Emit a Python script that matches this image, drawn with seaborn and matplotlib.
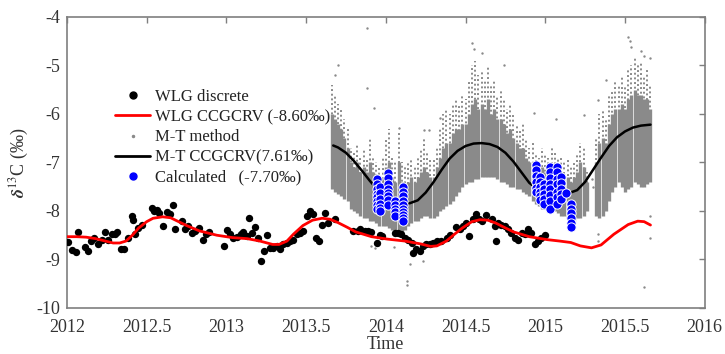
import numpy as np
import pandas as pd
import matplotlib
matplotlib.use("Agg")
import matplotlib.pyplot as plt
import seaborn as sns
from matplotlib.lines import Line2D

# ---------------------------------------------------------------- data
# WLG discrete flask samples (decimal year, delta13C permil)
wlg_year = [2012.008, 2012.030, 2012.056, 2012.071, 2012.113, 2012.134, 2012.148, 2012.171,
            2012.192, 2012.217, 2012.238, 2012.259, 2012.280, 2012.301, 2012.316, 2012.337,
            2012.359, 2012.380, 2012.406, 2012.412, 2012.426, 2012.447, 2012.468, 2012.531,
            2012.545, 2012.562, 2012.579, 2012.604, 2012.625, 2012.646, 2012.663, 2012.677,
            2012.719, 2012.740, 2012.761, 2012.782, 2012.803, 2012.830, 2012.851, 2012.871,
            2012.892, 2012.984, 2013.005, 2013.022, 2013.043, 2013.068, 2013.089, 2013.106,
            2013.127, 2013.143, 2013.160, 2013.179, 2013.200, 2013.217, 2013.237, 2013.252,
            2013.273, 2013.293, 2013.315, 2013.335, 2013.356, 2013.377, 2013.398, 2013.419,
            2013.440, 2013.461, 2013.481, 2013.503, 2013.524, 2013.544, 2013.565, 2013.580,
            2013.597, 2013.618, 2013.638, 2013.680, 2013.795, 2013.826, 2013.837, 2013.868,
            2013.889, 2013.910, 2013.942, 2013.962, 2013.979, 2014.056, 2014.077, 2014.098,
            2014.119, 2014.140, 2014.161, 2014.171, 2014.192, 2014.213, 2014.234, 2014.255,
            2014.276, 2014.297, 2014.318, 2014.349, 2014.381, 2014.401, 2014.443, 2014.464,
            2014.485, 2014.502, 2014.522, 2014.544, 2014.564, 2014.585, 2014.606, 2014.631,
            2014.663, 2014.683, 2014.690, 2014.704, 2014.725, 2014.746, 2014.767, 2014.788,
            2014.809, 2014.830, 2014.851, 2014.871, 2014.892, 2014.913, 2014.934, 2014.955,
            2014.976, 2014.997]
wlg_value = [-8.64, -8.81, -8.84, -8.44, -8.74, -8.83, -8.62, -8.55,
             -8.69, -8.59, -8.44, -8.59, -8.48, -8.47, -8.43, -8.78,
             -8.78, -8.55, -8.10, -8.19, -8.48, -8.35, -8.28, -7.94,
             -8.01, -7.99, -8.04, -8.31, -8.03, -8.07, -7.87, -8.38,
             -8.21, -8.38, -8.31, -8.46, -8.41, -8.35, -8.59, -8.48,
             -8.44, -8.72, -8.39, -8.48, -8.55, -8.53, -8.48, -8.44,
             -8.52, -8.14, -8.45, -8.33, -8.55, -9.03, -8.82, -8.50,
             -8.77, -8.76, -8.72, -8.79, -8.69, -8.65, -8.62, -8.59,
             -8.48, -8.45, -8.41, -8.11, -8.01, -8.07, -8.55, -8.62,
             -8.28, -8.04, -8.24, -8.16, -8.41, -8.41, -8.38, -8.41,
             -8.41, -8.43, -8.66, -8.50, -8.52, -8.45, -8.46, -8.48,
             -8.55, -8.59, -8.66, -8.86, -8.79, -8.83, -8.72, -8.69,
             -8.69, -8.66, -8.62, -8.62, -8.55, -8.50, -8.34, -8.38,
             -8.31, -8.24, -8.52, -8.17, -8.07, -8.17, -8.21, -8.09,
             -8.17, -8.31, -8.62, -8.24, -8.28, -8.31, -8.38, -8.45,
             -8.55, -8.59, -8.45, -8.48, -8.38, -8.45, -8.69, -8.62,
             -8.55, -8.50]

# WLG CCGCRV smoothed curve
wlg_fit_year = [2012.00, 2012.06, 2012.12, 2012.18, 2012.24, 2012.29, 2012.33, 2012.37,
                2012.41, 2012.45, 2012.50, 2012.54, 2012.60, 2012.65, 2012.70, 2012.75,
                2012.83, 2012.94, 2013.04, 2013.13, 2013.21, 2013.29, 2013.33, 2013.38,
                2013.42, 2013.48, 2013.54, 2013.60, 2013.65, 2013.70, 2013.76, 2013.81,
                2013.91, 2014.01, 2014.12, 2014.22, 2014.28, 2014.32, 2014.38, 2014.43,
                2014.48, 2014.54, 2014.59, 2014.64, 2014.69, 2014.75, 2014.80, 2014.90,
                2015.01, 2015.09, 2015.16, 2015.22, 2015.29, 2015.35, 2015.43, 2015.52,
                2015.58, 2015.62, 2015.66]
wlg_fit_value = [-8.53, -8.53, -8.54, -8.57, -8.62, -8.66, -8.66, -8.62,
                 -8.50, -8.35, -8.22, -8.15, -8.12, -8.14, -8.22, -8.30,
                 -8.41, -8.50, -8.55, -8.57, -8.62, -8.69, -8.69, -8.62,
                 -8.48, -8.30, -8.19, -8.15, -8.17, -8.24, -8.34, -8.43,
                 -8.53, -8.58, -8.62, -8.68, -8.73, -8.72, -8.62, -8.48,
                 -8.35, -8.22, -8.18, -8.19, -8.25, -8.35, -8.43, -8.53,
                 -8.59, -8.62, -8.65, -8.72, -8.76, -8.70, -8.48, -8.28,
                 -8.21, -8.22, -8.29]

# M-T method: hourly retrievals summarised in 0.02-yr bins
# (full range, and upper edge of the dense core)
mt_year = [2013.66, 2013.68, 2013.70, 2013.72, 2013.74, 2013.76, 2013.78, 2013.80, 2013.82, 2013.84,
           2013.86, 2013.88, 2013.90, 2013.92, 2013.94, 2013.96, 2013.98, 2014.00, 2014.02, 2014.04,
           2014.06, 2014.08, 2014.10, 2014.12, 2014.14, 2014.16, 2014.18, 2014.20, 2014.22, 2014.24,
           2014.26, 2014.28, 2014.30, 2014.32, 2014.34, 2014.36, 2014.38, 2014.40, 2014.42, 2014.44,
           2014.46, 2014.48, 2014.50, 2014.52, 2014.54, 2014.56, 2014.58, 2014.60, 2014.62, 2014.64,
           2014.66, 2014.68, 2014.70, 2014.72, 2014.74, 2014.76, 2014.78, 2014.80, 2014.82, 2014.84,
           2014.86, 2014.88, 2014.90, 2014.92, 2014.94, 2014.96, 2014.98, 2015.00, 2015.02, 2015.04,
           2015.06, 2015.08, 2015.10, 2015.12, 2015.14, 2015.16, 2015.18, 2015.20, 2015.22, 2015.24,
           2015.26, 2015.32, 2015.34, 2015.36, 2015.38, 2015.40, 2015.42, 2015.44, 2015.46, 2015.48,
           2015.50, 2015.52, 2015.54, 2015.56, 2015.58, 2015.60, 2015.62, 2015.64, 2015.66]
mt_low = [-7.55, -7.60, -7.65, -7.70, -7.75, -7.80, -7.95, -8.00, -8.05, -8.10,
          -8.15, -8.15, -8.20, -8.20, -8.25, -8.30, -8.30, -8.30, -8.35, -8.40,
          -8.40, -8.45, -8.45, -8.40, -8.30, -8.25, -8.20, -8.20, -8.15, -8.10,
          -8.10, -8.15, -8.15, -8.10, -8.00, -7.95, -7.90, -7.85, -7.80, -7.70,
          -7.60, -7.50, -7.45, -7.40, -7.40, -7.35, -7.35, -7.30, -7.30, -7.30,
          -7.30, -7.30, -7.35, -7.40, -7.40, -7.45, -7.50, -7.50, -7.55, -7.55,
          -7.60, -7.65, -7.70, -7.80, -7.85, -7.90, -7.95, -7.95, -8.00, -8.00,
          -8.00, -8.05, -8.10, -8.10, -8.15, -8.20, -8.20, -8.15, -8.15, -8.10,
          -8.00, -8.10, -8.15, -8.10, -8.00, -7.80, -7.60, -7.50, -7.40, -7.50,
          -7.60, -7.55, -7.50, -7.40, -7.45, -7.50, -7.50, -7.45, -7.40]
mt_high = [-5.40, -5.60, -5.80, -5.90, -6.10, -6.30, -6.70, -6.80, -6.60, -6.90,
           -6.70, -6.90, -6.50, -6.90, -7.00, -7.10, -6.90, -6.50, -6.30, -6.90,
           -7.00, -6.40, -7.00, -7.10, -7.00, -6.90, -7.10, -6.90, -6.70, -6.50,
           -6.80, -6.90, -6.90, -6.70, -6.30, -6.00, -5.90, -6.00, -5.80, -5.70,
           -5.80, -5.60, -5.70, -5.30, -5.00, -4.90, -5.20, -5.10, -5.30, -5.00,
           -5.40, -5.30, -5.60, -5.50, -5.70, -5.90, -5.80, -6.00, -6.20, -6.30,
           -6.20, -6.50, -6.70, -6.60, -6.80, -6.90, -6.70, -6.80, -6.90, -6.70,
           -6.80, -6.90, -6.90, -7.00, -6.90, -7.10, -7.00, -6.80, -6.60, -6.70,
           -7.20, -6.50, -6.00, -5.90, -6.10, -5.60, -5.50, -5.30, -5.40, -5.20,
           -5.40, -5.10, -5.00, -4.80, -5.00, -4.90, -5.20, -5.10, -5.40]
mt_core_high = [-6.00, -6.10, -6.20, -6.30, -6.50, -6.70,
                -7.00, -7.10, -7.00, -7.20, -7.10, -7.20, -7.00, -7.20, -7.30, -7.40,
                -7.30, -7.10, -7.00, -7.30,
                -7.40, -7.00, -7.40, -7.50, -7.40, -7.30, -7.40, -7.30, -7.20, -7.10,
                -7.20, -7.30, -7.30, -7.10, -6.90, -6.70, -6.60, -6.60, -6.40, -6.30,
                -6.30, -6.20, -6.20, -6.00, -5.80, -5.70, -5.90, -5.80, -5.90, -5.70,
                -6.00, -5.90, -6.10, -6.10, -6.20, -6.40, -6.30, -6.50, -6.60, -6.70,
                -6.70, -6.90, -7.00, -7.00, -7.10, -7.20, -7.10, -7.20, -7.20, -7.10,
                -7.20, -7.20, -7.30, -7.30, -7.30, -7.40, -7.30, -7.20, -7.00, -7.10,
                -7.40, -7.00, -6.60, -6.50, -6.60, -6.20, -6.00, -5.90, -5.90, -5.80,
                -5.90, -5.70, -5.60, -5.50, -5.60, -5.60, -5.70, -5.70, -5.90]

# M-T method: isolated retrievals outside the dense band
mt_out_year = [2013.697, 2013.68, 2013.879, 2013.879, 2013.925, 2014.08, 2014.24, 2014.27,
               2014.34, 2014.54, 2014.55, 2014.60, 2014.74, 2014.93, 2015.07, 2015.24,
               2015.33, 2015.38, 2015.52, 2015.53, 2015.54, 2015.60, 2015.62, 2015.66,
               2014.05, 2014.13, 2014.13, 2014.15, 2014.23, 2013.91, 2013.93, 2015.33,
               2015.33, 2015.66, 2015.66, 2015.62, 2015.29, 2015.30]
mt_out_value = [-4.99, -5.20, -4.22, -5.47, -5.87, -6.29, -6.33, -6.33,
                -6.08, -4.53, -4.65, -4.74, -4.99, -5.97, -6.10, -6.02,
                -5.71, -5.30, -4.41, -4.50, -4.62, -4.70, -4.80, -4.85,
                -8.75, -9.45, -9.52, -9.10, -9.03, -8.72, -8.76, -8.48,
                -8.62, -8.10, -8.55, -9.57, -7.35, -7.50]

# M-T CCGCRV smoothed curve
mt_fit_year = [2013.67, 2013.70, 2013.75, 2013.80, 2013.85, 2013.90, 2013.95, 2014.00,
               2014.05, 2014.10, 2014.15, 2014.20, 2014.25, 2014.30, 2014.35, 2014.40,
               2014.45, 2014.50, 2014.55, 2014.60, 2014.65, 2014.70, 2014.75, 2014.80,
               2014.85, 2014.90, 2014.95, 2015.00, 2015.05, 2015.10, 2015.15, 2015.20,
               2015.25, 2015.30, 2015.35, 2015.40, 2015.45, 2015.50, 2015.55, 2015.60,
               2015.66]
mt_fit_value = [-6.65, -6.69, -6.80, -6.97, -7.17, -7.38, -7.57, -7.71,
                -7.79, -7.84, -7.84, -7.78, -7.62, -7.40, -7.15, -6.92,
                -6.76, -6.66, -6.61, -6.60, -6.62, -6.68, -6.80, -6.98,
                -7.20, -7.42, -7.55, -7.58, -7.60, -7.62, -7.63, -7.57,
                -7.40, -7.15, -6.90, -6.66, -6.48, -6.36, -6.28, -6.24,
                -6.22]

# Calculated values
calc_year = ([2013.945] * 8 + [2013.962] * 6 + [2014.015] * 8 + [2014.055] * 5 + [2014.110] * 10
             + [2014.940] * 6 + [2014.965] * 6 + [2014.990] * 5 + [2015.030] * 8
             + [2015.075] * 7 + [2015.100] * 5 + [2015.130] * 1 + [2015.160] * 6)
calc_value = ([-7.35, -7.45, -7.55, -7.65, -7.72, -7.80, -7.88, -7.95]
              + [-7.50, -7.62, -7.75, -7.85, -7.93, -8.00]
              + [-7.22, -7.32, -7.45, -7.55, -7.62, -7.70, -7.78, -7.88]
              + [-7.80, -7.88, -7.95, -8.03, -8.10]
              + [-7.50, -7.60, -7.70, -7.80, -7.88, -7.95, -8.02, -8.08, -8.15, -8.20]
              + [-7.05, -7.15, -7.28, -7.40, -7.52, -7.60]
              + [-7.30, -7.40, -7.50, -7.60, -7.70, -7.78]
              + [-7.45, -7.55, -7.65, -7.75, -7.85]
              + [-7.10, -7.20, -7.32, -7.45, -7.55, -7.68, -7.80, -7.95]
              + [-7.10, -7.20, -7.35, -7.45, -7.60, -7.72, -7.85]
              + [-7.30, -7.42, -7.55, -7.65, -7.75]
              + [-7.62]
              + [-7.85, -7.95, -8.05, -8.15, -8.25, -8.33])

legend_labels = ["WLG discrete", "WLG CCGCRV (-8.60\u2030)", "M-T method",
                 "M-T CCGCRV(7.61\u2030)", "Calculated   (-7.70\u2030)"]

x_ticks = [2012, 2012.5, 2013, 2013.5, 2014, 2014.5, 2015, 2015.5, 2016]
x_tick_labels = ["2012", "2012.5", "2013", "2013.5", "2014", "2014.5", "2015", "2015.5", "2016"]
y_ticks = [-10, -9, -8, -7, -6, -5, -4]

# ---------------------------------------------------------------- style
sns.set_style("white")
plt.rcParams["font.family"] = ["Liberation Serif", "DejaVu Serif"]
plt.rcParams["mathtext.fontset"] = "stix"

spine_grey = "#7f7f7f"
mt_grey = "#8a8a8a"
text_col = "#333333"

fig = plt.figure(figsize=(7.25, 3.54), dpi=100)
ax = fig.add_axes([0.0924, 0.130, 0.8796, 0.822])

# M-T retrievals: sparse outer range as dotted strokes, dense core solid
ax.vlines(mt_year, mt_low, mt_high, colors=mt_grey, linewidth=1.4,
          linestyles=(0, (1.0, 1.4)), zorder=1)
ax.vlines(mt_year, mt_low, mt_core_high, colors=mt_grey, linewidth=2.4, zorder=1)
sns.scatterplot(x=mt_out_year, y=mt_out_value, ax=ax, color=mt_grey, s=3,
                linewidth=0, zorder=1)

# M-T CCGCRV
sns.lineplot(x=mt_fit_year, y=mt_fit_value, ax=ax, color="black", linewidth=1.8,
             sort=False, estimator=None, zorder=3)

# WLG discrete and fit
sns.scatterplot(x=wlg_year, y=wlg_value, ax=ax, color="black", s=28,
                linewidth=0, zorder=4)
sns.lineplot(x=wlg_fit_year, y=wlg_fit_value, ax=ax, color="red", linewidth=2.0,
             sort=False, estimator=None, zorder=5)

# Calculated values
sns.scatterplot(x=calc_year, y=calc_value, ax=ax, color="#0000ff", s=44,
                edgecolor="white", linewidth=0.7, zorder=6)

# ---------------------------------------------------------------- axes
ax.set_xlim(2012, 2016)
ax.set_ylim(-10, -4)
ax.set_xticks(x_ticks)
ax.set_xticklabels(x_tick_labels)
ax.set_yticks(y_ticks)
ax.set_yticklabels([str(v) for v in y_ticks])
ax.tick_params(axis="both", which="both", direction="in", length=4, width=1,
               color=spine_grey, labelsize=13, labelcolor=text_col,
               top=True, right=True)
ax.tick_params(axis="x", pad=8)
ax.tick_params(axis="y", pad=5)
for sp in ax.spines.values():
    sp.set_color(spine_grey)
    sp.set_linewidth(1.2)
    sp.set_visible(True)

ax.set_xlabel("Time", fontsize=13, color=text_col, labelpad=0)
ax.set_ylabel(r"$\boldsymbol{\delta}^{13}$C (" + "\u2030" + ")", fontsize=13,
              color=text_col, labelpad=4)

# ---------------------------------------------------------------- legend
handles = [
    Line2D([], [], linestyle="none", marker="o", color="black", markersize=5),
    Line2D([], [], color="red", linewidth=2.0),
    Line2D([], [], linestyle="none", marker="o", color=mt_grey, markersize=1.5),
    Line2D([], [], color="black", linewidth=2.0),
    Line2D([], [], linestyle="none", marker="o", color="#0000ff", markersize=5),
]
leg = ax.legend(handles, legend_labels, loc="upper left", bbox_to_anchor=(0.076, 0.752),
                frameon=False, fontsize=12, handlelength=2.1, handletextpad=0.25,
                labelspacing=0.25, borderpad=0, borderaxespad=0)
for t in leg.get_texts():
    t.set_color("#222222")

fig.savefig("out.png", dpi=100)
